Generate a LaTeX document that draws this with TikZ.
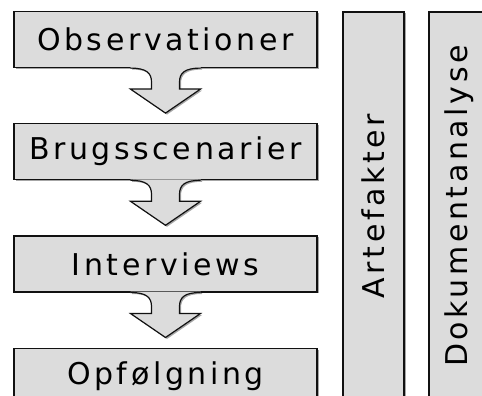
\documentclass[tikz,border=0pt]{standalone}
\usepackage{fontspec}
\setmainfont{DejaVu Sans}[LetterSpace=12]
\usetikzlibrary{positioning,calc,shadows}

\definecolor{boxgray}{HTML}{DCDCDC}
\definecolor{edge}{HTML}{111111}

\tikzset{
  softshadow/.style={drop shadow={shadow xshift=1.5pt, shadow yshift=-1.5pt, opacity=0.35, fill=black}},
  stage/.style={draw=edge, line width=1.2pt, fill=boxgray, softshadow,
    minimum width=303pt, minimum height=56pt, inner sep=0pt,
    font=\fontsize{30}{36}\selectfont},
  column/.style={draw=edge, line width=1.2pt, fill=boxgray, softshadow,
    rotate=90, minimum width=388pt, minimum height=61pt, inner sep=0pt,
    font=\fontsize{30}{36}\selectfont},
  flowfill/.style={fill=boxgray, softshadow},
  flowline/.style={draw=edge, line width=1.2pt, line join=miter},
}

\begin{document}
\begin{tikzpicture}[x=1pt, y=-1pt]
  \useasboundingbox (0,0) rectangle (482,396);
  \clip (0,0) rectangle (482,396);

  % the four steps, top to bottom
  \node[stage] (obs) at (165.5,39.5) {Observationer};
  \node[stage, below=55pt of obs] (brug) {Brugsscenarier};
  \node[stage, below=55pt of brug] (inter) {Interviews};
  \node[stage, below=55pt of inter] (opf) {Opfølgning};

  % the two columns on the right
  \node[column] (art) at (373.5,206) {Artefakter};
  \node[column] (dok) at (459.5,206) {Dokumentanalyse};

  % block arrows between the steps
  \foreach \a/\b in {obs/brug, brug/inter, inter/opf} {
    \path[flowfill]
      ($(\a.south)+(-35,-1)$) -- ($(\a.south)+(-35,0)$)
      .. controls ($(\a.south)+(-19,0)$) and ($(\a.south)+(-14,5)$) .. ($(\a.south)+(-14,14)$)
      -- ($(\a.south)+(-14,21)$) -- ($(\a.south)+(-35,21)$) -- ($(\b.north)+(0,-10)$)
      -- ($(\a.south)+(35,21)$) -- ($(\a.south)+(14,21)$) -- ($(\a.south)+(14,14)$)
      .. controls ($(\a.south)+(14,5)$) and ($(\a.south)+(19,0)$) .. ($(\a.south)+(35,0)$)
      -- ($(\a.south)+(35,-1)$) -- cycle;
    \draw[flowline]
      ($(\a.south)+(-35,0)$)
      .. controls ($(\a.south)+(-19,0)$) and ($(\a.south)+(-14,5)$) .. ($(\a.south)+(-14,14)$)
      -- ($(\a.south)+(-14,21)$) -- ($(\a.south)+(-35,21)$) -- ($(\b.north)+(0,-10)$)
      -- ($(\a.south)+(35,21)$) -- ($(\a.south)+(14,21)$) -- ($(\a.south)+(14,14)$)
      .. controls ($(\a.south)+(14,5)$) and ($(\a.south)+(19,0)$) .. ($(\a.south)+(35,0)$);
  }
\end{tikzpicture}
\end{document}
